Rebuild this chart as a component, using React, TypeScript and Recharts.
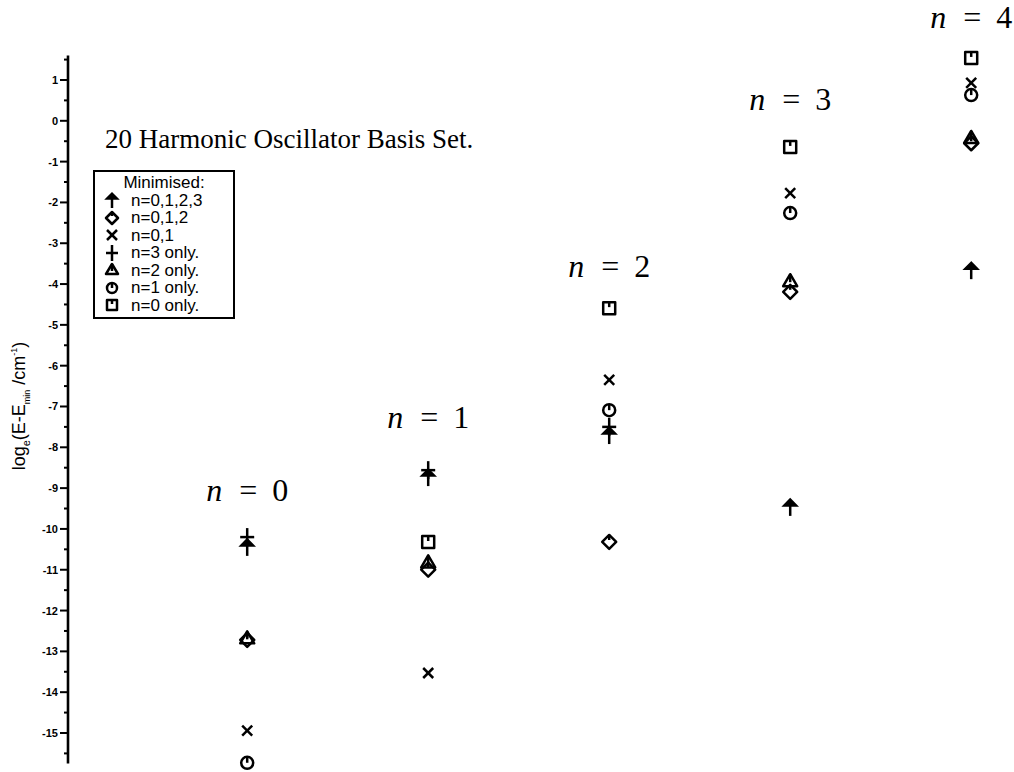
import React from 'react'
import {
    ScatterChart,
    Scatter,
    XAxis,
    YAxis,
    Label,
    ReferenceDot,
} from 'recharts'

// columns: the level n each energy belongs to
const nValues = [0, 1, 2, 3, 4]
const nLabelY = [-9.32, -7.53, -3.83, 0.26, 2.27]

// log_e(E - E_min) for each minimisation, one value per level (null = off the plot)
const minAll = [-10.44, -8.73, -7.7, -9.46, -3.66]
const min012 = [-12.72, -11.0, -10.32, -4.19, -0.55]
const min01 = [-14.94, -13.53, -6.35, -1.77, 0.93]
const only3 = [-10.2, -8.56, -7.5, null, null]
const only2 = [-12.68, -10.82, null, -3.93, -0.42]
const only1 = [-15.73, null, -7.09, -2.26, 0.63]
const only0 = [null, -10.32, -4.59, -0.64, 1.54]

const yTicks = [
    1.5, 1, 0.5, 0, -0.5, -1, -1.5, -2, -2.5, -3, -3.5, -4, -4.5, -5, -5.5, -6, -6.5,
    -7, -7.5, -8, -8.5, -9, -9.5, -10, -10.5, -11, -11.5, -12, -12.5, -13, -13.5,
    -14, -14.5, -15, -15.5,
]

const sans = '"Liberation Sans", Arial, Helvetica, sans-serif'
const serif = '"Liberation Serif", "Times New Roman", serif'

type Kind = 'arrow' | 'diamond' | 'cross' | 'plus' | 'triangle' | 'circle' | 'square'

const series: { name: string; kind: Kind; values: (number | null)[] }[] = [
    { name: 'n=0,1,2,3', kind: 'arrow', values: minAll },
    { name: 'n=0,1,2', kind: 'diamond', values: min012 },
    { name: 'n=0,1', kind: 'cross', values: min01 },
    { name: 'n=3 only.', kind: 'plus', values: only3 },
    { name: 'n=2 only.', kind: 'triangle', values: only2 },
    { name: 'n=1 only.', kind: 'circle', values: only1 },
    { name: 'n=0 only.', kind: 'square', values: only0 },
]

const toPoints = (values: (number | null)[]) =>
    nValues
        .map((n, i) => ({ x: n, y: values[i] }))
        .filter((p) => p.y !== null)

const Marker = ({ kind, cx, cy, s = 7 }: { kind: Kind; cx: number; cy: number; s?: number }) => {
    const common = { stroke: '#000', strokeWidth: 2.5, fill: 'none', strokeLinejoin: 'round' as const }
    switch (kind) {
        case 'arrow':
            return (
                <g>
                    <polygon
                        points={`${cx},${cy - s - 1} ${cx - s},${cy - 1} ${cx + s},${cy - 1}`}
                        fill="#000"
                        stroke="#000"
                        strokeWidth={1.5}
                    />
                    <line x1={cx} y1={cy - 3} x2={cx} y2={cy + s + 2} {...common} />
                </g>
            )
        case 'diamond':
            return (
                <g>
                    <path d={`M${cx},${cy - s} L${cx + s},${cy} L${cx},${cy + s} L${cx - s},${cy} Z`} {...common} />
                    <line x1={cx} y1={cy - s} x2={cx} y2={cy - 2} {...common} />
                </g>
            )
        case 'cross':
            return (
                <g>
                    <line x1={cx - 5} y1={cy - 5} x2={cx + 5} y2={cy + 5} {...common} />
                    <line x1={cx - 5} y1={cy + 5} x2={cx + 5} y2={cy - 5} {...common} />
                </g>
            )
        case 'plus':
            return (
                <g>
                    <line x1={cx - s} y1={cy} x2={cx + s} y2={cy} {...common} />
                    <line x1={cx} y1={cy - s - 2} x2={cx} y2={cy + s + 2} {...common} />
                </g>
            )
        case 'triangle':
            return (
                <g>
                    <polygon points={`${cx},${cy - s} ${cx + s},${cy + s - 2} ${cx - s},${cy + s - 2}`} {...common} />
                    <line x1={cx} y1={cy - s} x2={cx} y2={cy + 1} {...common} />
                </g>
            )
        case 'circle':
            return (
                <g>
                    <circle cx={cx} cy={cy} r={s - 1} {...common} />
                    <line x1={cx} y1={cy - s + 1} x2={cx} y2={cy} {...common} />
                </g>
            )
        case 'square':
            return (
                <g>
                    <rect x={cx - s + 1} y={cy - s + 1} width={2 * s - 2} height={2 * s - 2} {...common} />
                    <line x1={cx} y1={cy - s + 1} x2={cx} y2={cy - 1} {...common} />
                </g>
            )
    }
}

const AxisTick = (props: any) => {
    const { x, y, payload } = props
    const v = payload.value as number
    const major = Number.isInteger(v)
    return (
        <g>
            <line x1={x - (major ? 8 : 4)} y1={y} x2={x} y2={y} stroke="#000" strokeWidth={2} />
            {major && (
                <text
                    x={x - 10}
                    y={y}
                    dy={4}
                    textAnchor="end"
                    fontSize={11}
                    fontWeight="bold"
                    fontFamily={sans}
                    fill="#000"
                >
                    {v}
                </text>
            )}
        </g>
    )
}

const AxisTitle = () => (
    <text
        transform="translate(25,406) rotate(-90)"
        textAnchor="middle"
        fontFamily={sans}
        fontSize={18}
        fill="#000"
    >
        log
        <tspan fontSize={11} dy={5}>e</tspan>
        <tspan dy={-5}>(E-E</tspan>
        <tspan fontSize={9} dy={5}>min</tspan>
        <tspan dy={-5}> /cm</tspan>
        <tspan fontSize={9} dy={-8}>-1</tspan>
        <tspan dy={8}>)</tspan>
    </text>
)

const LevelLabel = ({ cx, cy, n }: { cx: number; cy: number; n: number }) => (
    <g fontFamily={serif} fontSize={32} fill="#000">
        <text x={cx - 33} y={cy} textAnchor="middle" fontStyle="italic">n</text>
        <text x={cx + 1} y={cy} textAnchor="middle">=</text>
        <text x={cx + 33} y={cy} textAnchor="middle">{n}</text>
    </g>
)

// key box: one row per minimisation, drawn with the same markers as the plot
const LegendBox = () => (
    <div
        style={{
            position: 'absolute',
            left: 93,
            top: 170,
            border: '2px solid #000',
            width: 138,
            padding: '2px 0 3px',
            fontFamily: sans,
            fontSize: 17,
            lineHeight: '17.5px',
            color: '#000',
            background: '#fff',
        }}
    >
        <div style={{ textAlign: 'center' }}>Minimised:</div>
        {series.map((s) => (
            <div key={s.name} style={{ display: 'flex', alignItems: 'center', height: 17.5 }}>
                <svg width={36} height={18}>
                    <Marker kind={s.kind} cx={17} cy={9} s={6} />
                </svg>
                <span>{s.name}</span>
            </div>
        ))}
    </div>
)

export default function App() {
    return (
        <div style={{ position: 'absolute', left: 0, top: 0, width: 1014, height: 772, background: '#fff' }}>
            <ScatterChart width={1014} height={772} margin={{ top: 55.5, right: 6.6, bottom: 8.4, left: 0 }}>
                <XAxis type="number" dataKey="x" domain={[-0.99, 4.2]} hide height={0} />
                <YAxis
                    type="number"
                    dataKey="y"
                    domain={[-15.75, 1.6]}
                    ticks={yTicks}
                    interval={0}
                    width={68}
                    tickSize={0}
                    tickMargin={0}
                    tickLine={false}
                    tick={<AxisTick />}
                    axisLine={{ stroke: '#000', strokeWidth: 2.6 }}
                >
                    <Label content={<AxisTitle />} />
                </YAxis>
                {series.map((s) => (
                    <Scatter
                        key={s.name}
                        name={s.name}
                        data={toPoints(s.values)}
                        isAnimationActive={false}
                        shape={(p: any) => <Marker kind={s.kind} cx={p.cx} cy={p.cy} />}
                    />
                ))}
                {nValues.map((n, i) => (
                    <ReferenceDot
                        key={n}
                        x={n}
                        y={nLabelY[i]}
                        r={0}
                        ifOverflow="visible"
                        shape={(p: any) => <LevelLabel cx={p.cx} cy={p.cy} n={n} />}
                    />
                ))}
            </ScatterChart>
            <LegendBox />
            <div
                style={{
                    position: 'absolute',
                    left: 105,
                    top: 126,
                    fontFamily: serif,
                    fontSize: 27,
                    lineHeight: '27px',
                    color: '#000',
                    whiteSpace: 'nowrap',
                }}
            >
                20 Harmonic Oscillator Basis Set.
            </div>
        </div>
    )
}
